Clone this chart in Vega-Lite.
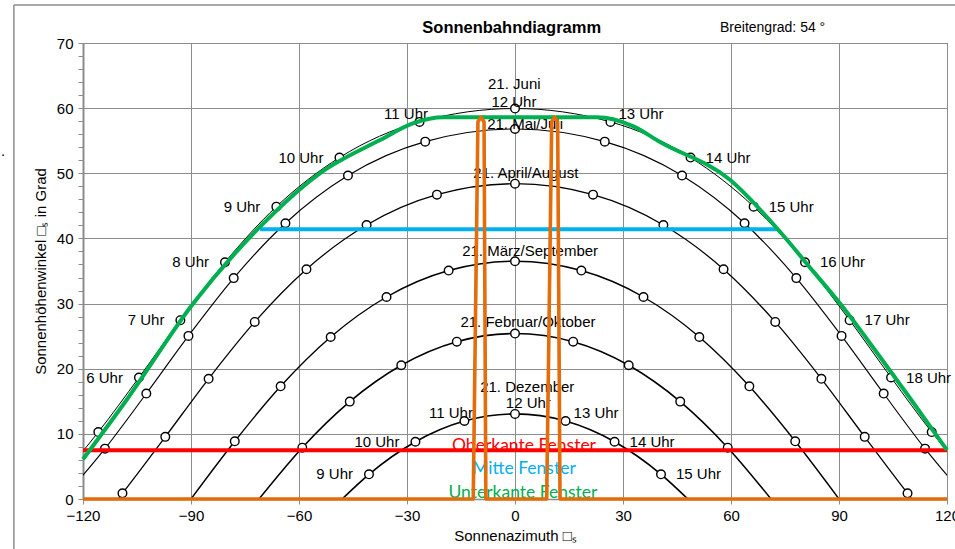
{
  "$schema": "https://vega.github.io/schema/vega-lite/v6.json",
  "width": 864,
  "height": 456,
  "autosize": {"type": "none"},
  "padding": {"left": 83, "top": 43, "right": 8, "bottom": 50},
  "background": "white",
  "config": {
    "view": {"stroke": "#8c8c8c", "strokeWidth": 1},
    "font": "Liberation Sans"
  },
  "datasets": {
    "bahnen": [
      {"monat": "Juni", "uhr": null, "az": -131.97, "alt": 0},
      {"monat": "Juni", "uhr": 4, "az": -127.30, "alt": 2.69},
      {"monat": "Juni", "uhr": 5, "az": -115.75, "alt": 10.28},
      {"monat": "Juni", "uhr": 6, "az": -104.46, "alt": 18.65},
      {"monat": "Juni", "uhr": 7, "az": -92.95, "alt": 27.45},
      {"monat": "Juni", "uhr": 8, "az": -80.56, "alt": 36.34},
      {"monat": "Juni", "uhr": 9, "az": -66.29, "alt": 44.88},
      {"monat": "Juni", "uhr": 10, "az": -48.76, "alt": 52.41},
      {"monat": "Juni", "uhr": 11, "az": -26.52, "alt": 57.89},
      {"monat": "Juni", "uhr": 12, "az": 0, "alt": 59.94},
      {"monat": "Juni", "uhr": 13, "az": 26.52, "alt": 57.89},
      {"monat": "Juni", "uhr": 14, "az": 48.76, "alt": 52.41},
      {"monat": "Juni", "uhr": 15, "az": 66.29, "alt": 44.88},
      {"monat": "Juni", "uhr": 16, "az": 80.56, "alt": 36.34},
      {"monat": "Juni", "uhr": 17, "az": 92.95, "alt": 27.45},
      {"monat": "Juni", "uhr": 18, "az": 104.46, "alt": 18.65},
      {"monat": "Juni", "uhr": 19, "az": 115.75, "alt": 10.28},
      {"monat": "Juni", "uhr": 20, "az": 127.30, "alt": 2.69},
      {"monat": "Juni", "uhr": null, "az": 131.97, "alt": 0},

      {"monat": "Mai/Juli", "uhr": null, "az": -125.69, "alt": 0},
      {"monat": "Mai/Juli", "uhr": 5, "az": -113.90, "alt": 7.73},
      {"monat": "Mai/Juli", "uhr": 6, "az": -102.41, "alt": 16.19},
      {"monat": "Mai/Juli", "uhr": 7, "az": -90.71, "alt": 25.04},
      {"monat": "Mai/Juli", "uhr": 8, "az": -78.14, "alt": 33.91},
      {"monat": "Mai/Juli", "uhr": 9, "az": -63.77, "alt": 42.33},
      {"monat": "Mai/Juli", "uhr": 10, "az": -46.40, "alt": 49.65},
      {"monat": "Mai/Juli", "uhr": 11, "az": -24.94, "alt": 54.86},
      {"monat": "Mai/Juli", "uhr": 12, "az": 0, "alt": 56.80},
      {"monat": "Mai/Juli", "uhr": 13, "az": 24.94, "alt": 54.86},
      {"monat": "Mai/Juli", "uhr": 14, "az": 46.40, "alt": 49.65},
      {"monat": "Mai/Juli", "uhr": 15, "az": 63.77, "alt": 42.33},
      {"monat": "Mai/Juli", "uhr": 16, "az": 78.14, "alt": 33.91},
      {"monat": "Mai/Juli", "uhr": 17, "az": 90.71, "alt": 25.04},
      {"monat": "Mai/Juli", "uhr": 18, "az": 102.41, "alt": 16.19},
      {"monat": "Mai/Juli", "uhr": 19, "az": 113.90, "alt": 7.73},
      {"monat": "Mai/Juli", "uhr": null, "az": 125.69, "alt": 0},

      {"monat": "April/August", "uhr": null, "az": -110.28, "alt": 0},
      {"monat": "April/August", "uhr": 5, "az": -109.04, "alt": 0.87},
      {"monat": "April/August", "uhr": 6, "az": -97.14, "alt": 9.54},
      {"monat": "April/August", "uhr": 7, "az": -85.11, "alt": 18.45},
      {"monat": "April/August", "uhr": 8, "az": -72.29, "alt": 27.18},
      {"monat": "April/August", "uhr": 9, "az": -57.93, "alt": 35.27},
      {"monat": "April/August", "uhr": 10, "az": -41.22, "alt": 42.05},
      {"monat": "April/August", "uhr": 11, "az": -21.68, "alt": 46.72},
      {"monat": "April/August", "uhr": 12, "az": 0, "alt": 48.40},
      {"monat": "April/August", "uhr": 13, "az": 21.68, "alt": 46.72},
      {"monat": "April/August", "uhr": 14, "az": 41.22, "alt": 42.05},
      {"monat": "April/August", "uhr": 15, "az": 57.93, "alt": 35.27},
      {"monat": "April/August", "uhr": 16, "az": 72.29, "alt": 27.18},
      {"monat": "April/August", "uhr": 17, "az": 85.11, "alt": 18.45},
      {"monat": "April/August", "uhr": 18, "az": 97.14, "alt": 9.54},
      {"monat": "April/August", "uhr": 19, "az": 109.04, "alt": 0.87},
      {"monat": "April/August", "uhr": null, "az": 110.28, "alt": 0},

      {"monat": "März/September", "uhr": null, "az": -90, "alt": 0},
      {"monat": "März/September", "uhr": 7, "az": -77.84, "alt": 8.86},
      {"monat": "März/September", "uhr": 8, "az": -65.10, "alt": 17.30},
      {"monat": "März/September", "uhr": 9, "az": -51.20, "alt": 24.87},
      {"monat": "März/September", "uhr": 10, "az": -35.69, "alt": 31.01},
      {"monat": "März/September", "uhr": 11, "az": -18.43, "alt": 35.07},
      {"monat": "März/September", "uhr": 12, "az": 0, "alt": 36.50},
      {"monat": "März/September", "uhr": 13, "az": 18.43, "alt": 35.07},
      {"monat": "März/September", "uhr": 14, "az": 35.69, "alt": 31.01},
      {"monat": "März/September", "uhr": 15, "az": 51.20, "alt": 24.87},
      {"monat": "März/September", "uhr": 16, "az": 65.10, "alt": 17.30},
      {"monat": "März/September", "uhr": 17, "az": 77.84, "alt": 8.86},
      {"monat": "März/September", "uhr": null, "az": 90, "alt": 0},

      {"monat": "Februar/Oktober", "uhr": null, "az": -71.12, "alt": 0},
      {"monat": "Februar/Oktober", "uhr": 8, "az": -59.09, "alt": 7.88},
      {"monat": "Februar/Oktober", "uhr": 9, "az": -45.90, "alt": 14.95},
      {"monat": "Februar/Oktober", "uhr": 10, "az": -31.59, "alt": 20.53},
      {"monat": "Februar/Oktober", "uhr": 11, "az": -16.16, "alt": 24.15},
      {"monat": "Februar/Oktober", "uhr": 12, "az": 0, "alt": 25.40},
      {"monat": "Februar/Oktober", "uhr": 13, "az": 16.16, "alt": 24.15},
      {"monat": "Februar/Oktober", "uhr": 14, "az": 31.59, "alt": 20.53},
      {"monat": "Februar/Oktober", "uhr": 15, "az": 45.90, "alt": 14.95},
      {"monat": "Februar/Oktober", "uhr": 16, "az": 59.09, "alt": 7.88},
      {"monat": "Februar/Oktober", "uhr": null, "az": 71.12, "alt": 0},

      {"monat": "Dezember", "uhr": null, "az": -48.03, "alt": 0},
      {"monat": "Dezember", "uhr": 9, "az": -40.56, "alt": 3.79},
      {"monat": "Dezember", "uhr": 10, "az": -27.66, "alt": 8.79},
      {"monat": "Dezember", "uhr": 11, "az": -14.05, "alt": 11.97},
      {"monat": "Dezember", "uhr": 12, "az": 0, "alt": 13.06},
      {"monat": "Dezember", "uhr": 13, "az": 14.05, "alt": 11.97},
      {"monat": "Dezember", "uhr": 14, "az": 27.66, "alt": 8.79},
      {"monat": "Dezember", "uhr": 15, "az": 40.56, "alt": 3.79},
      {"monat": "Dezember", "uhr": null, "az": 48.03, "alt": 0}
    ],
    "stunden": [
      {"text": "6 Uhr", "uhr": 6, "az": -104.46, "alt": 18.65},
      {"text": "7 Uhr", "uhr": 7, "az": -92.95, "alt": 27.45},
      {"text": "8 Uhr", "uhr": 8, "az": -80.56, "alt": 36.34},
      {"text": "9 Uhr", "uhr": 9, "az": -66.29, "alt": 44.88},
      {"text": "10 Uhr", "uhr": 10, "az": -48.76, "alt": 52.41},
      {"text": "11 Uhr", "uhr": 11, "az": -26.52, "alt": 57.89},
      {"text": "13 Uhr", "uhr": 13, "az": 26.52, "alt": 57.89},
      {"text": "14 Uhr", "uhr": 14, "az": 48.76, "alt": 52.41},
      {"text": "15 Uhr", "uhr": 15, "az": 66.29, "alt": 44.88},
      {"text": "16 Uhr", "uhr": 16, "az": 80.56, "alt": 36.34},
      {"text": "17 Uhr", "uhr": 17, "az": 92.95, "alt": 27.45},
      {"text": "18 Uhr", "uhr": 18, "az": 104.46, "alt": 18.65},
      {"text": "9 Uhr", "uhr": 9, "az": -40.56, "alt": 3.79},
      {"text": "10 Uhr", "uhr": 10, "az": -27.66, "alt": 8.79},
      {"text": "11 Uhr", "uhr": 11, "az": -14.05, "alt": 11.97},
      {"text": "13 Uhr", "uhr": 13, "az": 14.05, "alt": 11.97},
      {"text": "14 Uhr", "uhr": 14, "az": 27.66, "alt": 8.79},
      {"text": "15 Uhr", "uhr": 15, "az": 40.56, "alt": 3.79}
    ],
    "monate": [
      {"text": "21. Juni", "az": -0.2, "alt": 63.71},
      {"text": "12 Uhr", "az": -0.3, "alt": 61.0},
      {"text": "21. Mai/Juli", "az": 2.8, "alt": 57.6},
      {"text": "21. April/August", "az": 3.0, "alt": 50.0},
      {"text": "21. März/September", "az": 4.2, "alt": 38.12},
      {"text": "21. Februar/Oktober", "az": 3.6, "alt": 27.22},
      {"text": "21. Dezember", "az": 3.4, "alt": 17.24},
      {"text": "12 Uhr", "az": 3.7, "alt": 14.69}
    ],
    "fenster": [
      {"serie": "Oberkante Fenster", "az": -120, "alt": 7.47},
      {"serie": "Oberkante Fenster", "az": 120, "alt": 7.47},
      {"serie": "Mitte Fenster", "az": -70.8, "alt": 41.4},
      {"serie": "Mitte Fenster", "az": 72.7, "alt": 41.4},
      {"serie": "Unterkante Fenster", "az": -120, "alt": 6.1},
      {"serie": "Unterkante Fenster", "az": -107.9, "alt": 15.2},
      {"serie": "Unterkante Fenster", "az": -89.4, "alt": 30.0},
      {"serie": "Unterkante Fenster", "az": -70.8, "alt": 41.8},
      {"serie": "Unterkante Fenster", "az": -54.2, "alt": 50.0},
      {"serie": "Unterkante Fenster", "az": -37.5, "alt": 55.1},
      {"serie": "Unterkante Fenster", "az": -28.2, "alt": 57.7},
      {"serie": "Unterkante Fenster", "az": -19.9, "alt": 58.6},
      {"serie": "Unterkante Fenster", "az": 22.7, "alt": 58.6},
      {"serie": "Unterkante Fenster", "az": 32.9, "alt": 57.2},
      {"serie": "Unterkante Fenster", "az": 40.3, "alt": 54.8},
      {"serie": "Unterkante Fenster", "az": 59.7, "alt": 49.0},
      {"serie": "Unterkante Fenster", "az": 72.7, "alt": 41.6},
      {"serie": "Unterkante Fenster", "az": 82.9, "alt": 34.9},
      {"serie": "Unterkante Fenster", "az": 90.3, "alt": 30.0},
      {"serie": "Unterkante Fenster", "az": 101.4, "alt": 21.8},
      {"serie": "Unterkante Fenster", "az": 109.7, "alt": 15.5},
      {"serie": "Unterkante Fenster", "az": 120, "alt": 7.5},
      {"serie": "Fensterrahmen", "az": -120, "alt": 0},
      {"serie": "Fensterrahmen", "az": -11.6, "alt": 0},
      {"serie": "Fensterrahmen", "az": -10.3, "alt": 57.9},
      {"serie": "Fensterrahmen", "az": -9.45, "alt": 58.6},
      {"serie": "Fensterrahmen", "az": -8.6, "alt": 57.9},
      {"serie": "Fensterrahmen", "az": -8.1, "alt": 0},
      {"serie": "Fensterrahmen", "az": 8.8, "alt": 0},
      {"serie": "Fensterrahmen", "az": 10.2, "alt": 57.9},
      {"serie": "Fensterrahmen", "az": 11.0, "alt": 58.6},
      {"serie": "Fensterrahmen", "az": 11.85, "alt": 57.9},
      {"serie": "Fensterrahmen", "az": 12.5, "alt": 0},
      {"serie": "Fensterrahmen", "az": 120, "alt": 0}
    ],
    "legende": [
      {"serie": "Oberkante Fenster", "az": 2.5, "alt": 8.14},
      {"serie": "Mitte Fenster", "az": 2.5, "alt": 4.56},
      {"serie": "Unterkante Fenster", "az": 2.2, "alt": 0.97}
    ]
  },
  "layer": [
    {
      "data": {"name": "bahnen"},
      "mark": {"type": "line", "color": "#000000", "interpolate": "monotone", "clip": true},
      "encoding": {
        "x": {
          "field": "az", "type": "quantitative",
          "scale": {"domain": [-120, 120], "nice": false, "zero": false},
          "axis": {
            "values": [-120, -90, -60, -30, 0, 30, 60, 90, 120],
            "tickCount": 20,
            "title": "Sonnenazimuth □ₛ",
            "grid": true, "gridColor": "#8c8c8c", "gridWidth": 1,
            "domainColor": "#8c8c8c", "domainWidth": 1.5,
            "tickColor": "#8c8c8c", "tickSize": 5, "tickWidth": 1,
            "labelFont": "Liberation Sans", "labelFontSize": 15, "labelColor": "#000000",
            "labelPadding": 4, "labelFlush": false, "labelOverlap": false,
            "titleFont": "Liberation Sans", "titleFontSize": 15, "titleFontWeight": "normal",
            "titleColor": "#000000", "titlePadding": 5
          }
        },
        "y": {
          "field": "alt", "type": "quantitative",
          "scale": {"domain": [0, 70], "nice": false, "zero": false},
          "axis": {
            "values": [0, 2, 4, 6, 8, 10, 12, 14, 16, 18, 20, 22, 24, 26, 28, 30, 32, 34, 36, 38, 40, 42, 44, 46, 48, 50, 52, 54, 56, 58, 60, 62, 64, 66, 68, 70],
            "tickCount": 50,
            "labelExpr": "datum.value % 10 === 0 ? datum.label : ''",
            "grid": true, "gridColor": "#8c8c8c", "gridWidth": 1,
            "gridOpacity": {"condition": {"test": "datum.value % 10 === 0", "value": 1}, "value": 0},
            "domainColor": "#8c8c8c", "domainWidth": 2,
            "tickColor": "#8c8c8c", "tickSize": 5, "tickWidth": 1,
            "labelFont": "Liberation Sans", "labelFontSize": 15, "labelColor": "#000000",
            "labelPadding": 5, "labelFlush": false, "labelOverlap": false,
            "title": "Sonnenhöhenwinkel □ₛ in Grad",
            "titleFont": "Liberation Sans", "titleFontSize": 15, "titleFontWeight": "normal",
            "titleColor": "#000000", "titlePadding": 8
          }
        },
        "detail": {"field": "monat", "type": "nominal"},
        "strokeWidth": {
          "field": "monat", "type": "nominal",
          "scale": {"domain": ["Juni", "Mai/Juli", "April/August", "März/September", "Februar/Oktober", "Dezember"], "range": [1, 1.7, 1.2, 0.9, 1.7, 1]},
          "legend": null
        }
      }
    },
    {
      "data": {"name": "bahnen"},
      "transform": [{"filter": "datum.uhr != null"}],
      "mark": {"type": "point", "shape": "circle", "filled": true, "fill": "#ffffff", "stroke": "#000000", "strokeWidth": 1.4, "size": 74, "opacity": 1, "clip": true},
      "encoding": {
        "x": {"field": "az", "type": "quantitative"},
        "y": {"field": "alt", "type": "quantitative"}
      }
    },
    {
      "data": {"name": "stunden"},
      "transform": [{"filter": "datum.uhr <= 10"}],
      "mark": {"type": "text", "align": "right", "baseline": "middle", "dx": -16, "font": "Liberation Sans", "fontSize": 15, "color": "#000000"},
      "encoding": {
        "x": {"field": "az", "type": "quantitative"},
        "y": {"field": "alt", "type": "quantitative"},
        "text": {"field": "text"}
      }
    },
    {
      "data": {"name": "stunden"},
      "transform": [{"filter": "datum.uhr >= 14"}],
      "mark": {"type": "text", "align": "left", "baseline": "middle", "dx": 15, "font": "Liberation Sans", "fontSize": 15, "color": "#000000"},
      "encoding": {
        "x": {"field": "az", "type": "quantitative"},
        "y": {"field": "alt", "type": "quantitative"},
        "text": {"field": "text"}
      }
    },
    {
      "data": {"name": "stunden"},
      "transform": [{"filter": "datum.uhr == 11"}],
      "mark": {"type": "text", "align": "right", "baseline": "middle", "dx": 8.5, "dy": -8, "font": "Liberation Sans", "fontSize": 15, "color": "#000000"},
      "encoding": {
        "x": {"field": "az", "type": "quantitative"},
        "y": {"field": "alt", "type": "quantitative"},
        "text": {"field": "text"}
      }
    },
    {
      "data": {"name": "stunden"},
      "transform": [{"filter": "datum.uhr == 13"}],
      "mark": {"type": "text", "align": "left", "baseline": "middle", "dx": 8, "dy": -8, "font": "Liberation Sans", "fontSize": 15, "color": "#000000"},
      "encoding": {
        "x": {"field": "az", "type": "quantitative"},
        "y": {"field": "alt", "type": "quantitative"},
        "text": {"field": "text"}
      }
    },
    {
      "data": {"name": "monate"},
      "mark": {"type": "text", "align": "center", "baseline": "middle", "font": "Liberation Sans", "fontSize": 15, "color": "#000000"},
      "encoding": {
        "x": {"field": "az", "type": "quantitative"},
        "y": {"field": "alt", "type": "quantitative"},
        "text": {"field": "text"}
      }
    },
    {
      "data": {"name": "legende"},
      "mark": {"type": "text", "align": "center", "baseline": "middle", "font": "Lato", "fontSize": 17.5},
      "encoding": {
        "x": {"field": "az", "type": "quantitative"},
        "y": {"field": "alt", "type": "quantitative"},
        "text": {"field": "serie"},
        "color": {
          "field": "serie", "type": "nominal",
          "scale": {"domain": ["Oberkante Fenster", "Mitte Fenster", "Unterkante Fenster", "Fensterrahmen"], "range": ["#FF0000", "#00B0F0", "#00B050", "#E46C0A"]},
          "legend": null
        }
      }
    },
    {
      "data": {"name": "fenster"},
      "transform": [{"filter": "datum.serie == 'Oberkante Fenster' || datum.serie == 'Mitte Fenster'"}],
      "mark": {"type": "line", "strokeWidth": 4, "strokeJoin": "round"},
      "encoding": {
        "x": {"field": "az", "type": "quantitative"},
        "y": {"field": "alt", "type": "quantitative"},
        "color": {"field": "serie", "type": "nominal", "legend": null}
      }
    },
    {
      "data": {"name": "fenster"},
      "transform": [{"filter": "datum.serie == 'Unterkante Fenster'"}],
      "mark": {"type": "line", "strokeWidth": 4, "interpolate": "monotone", "strokeJoin": "round"},
      "encoding": {
        "x": {"field": "az", "type": "quantitative"},
        "y": {"field": "alt", "type": "quantitative"},
        "color": {"field": "serie", "type": "nominal", "legend": null}
      }
    },
    {
      "data": {"name": "fenster"},
      "transform": [{"filter": "datum.serie == 'Fensterrahmen'"}],
      "mark": {"type": "line", "strokeWidth": 3.6, "strokeJoin": "round"},
      "encoding": {
        "x": {"field": "az", "type": "quantitative"},
        "y": {"field": "alt", "type": "quantitative"},
        "color": {"field": "serie", "type": "nominal", "legend": null}
      }
    },
    {
      "data": {"values": [{"text": "Sonnenbahndiagramm"}]},
      "mark": {"type": "text", "align": "center", "baseline": "middle", "font": "Liberation Sans", "fontSize": 16.5, "fontWeight": "bold", "color": "#000000"},
      "encoding": {
        "x": {"datum": -0.92, "type": "quantitative"},
        "y": {"datum": 72.31, "type": "quantitative"},
        "text": {"field": "text"}
      }
    },
    {
      "data": {"values": [{"text": "Breitengrad: 54 °"}]},
      "mark": {"type": "text", "align": "left", "baseline": "middle", "font": "Liberation Sans", "fontSize": 14, "color": "#000000"},
      "encoding": {
        "x": {"datum": 56.94, "type": "quantitative"},
        "y": {"datum": 72.3, "type": "quantitative"},
        "text": {"field": "text"}
      }
    },
    {
      "data": {"values": [{"text": "."}]},
      "mark": {"type": "text", "align": "center", "baseline": "alphabetic", "font": "Liberation Sans", "fontSize": 15, "color": "#000000"},
      "encoding": {
        "x": {"datum": -142.2, "type": "quantitative"},
        "y": {"datum": 52.6, "type": "quantitative"},
        "text": {"field": "text"}
      }
    },
    {
      "data": {"values": [{}]},
      "mark": {"type": "rule", "color": "#8c8c8c", "strokeWidth": 1.5},
      "encoding": {
        "x": {"datum": -139.2, "type": "quantitative"},
        "y": {"datum": 75.84, "type": "quantitative"},
        "y2": {"datum": -9}
      }
    },
    {
      "data": {"values": [{}]},
      "mark": {"type": "rule", "color": "#8c8c8c", "strokeWidth": 1.5},
      "encoding": {
        "y": {"datum": 75.84, "type": "quantitative"},
        "x": {"datum": -139.2, "type": "quantitative"},
        "x2": {"datum": 125}
      }
    }
  ]
}
